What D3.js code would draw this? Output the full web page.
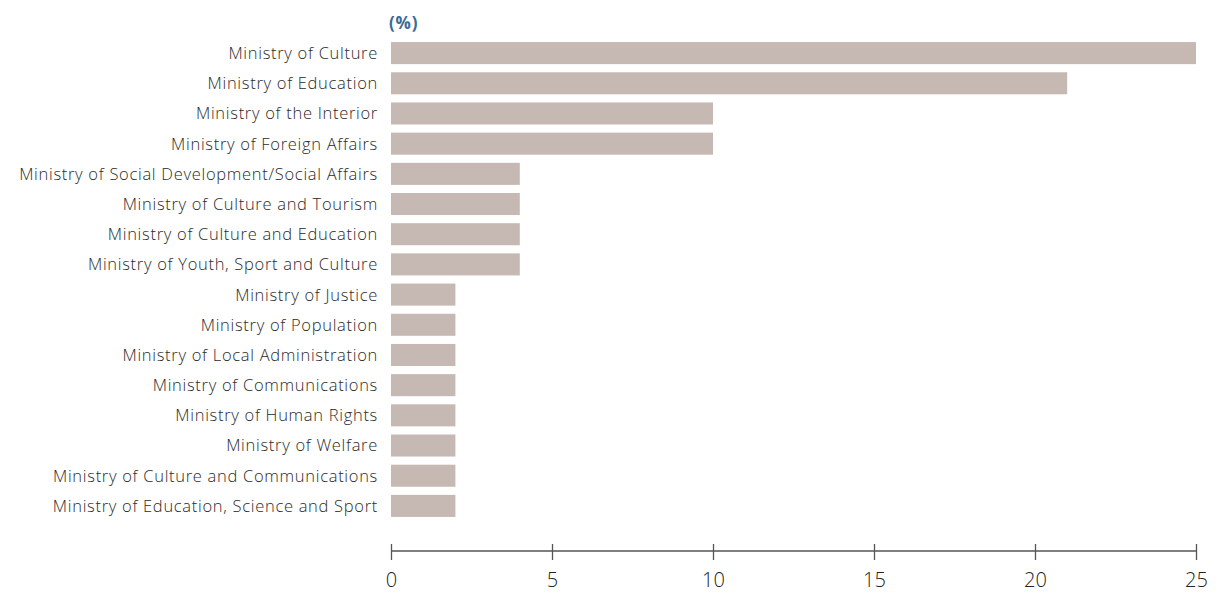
<!DOCTYPE html>
<html><head><meta charset="utf-8">
<script src="https://cdn.jsdelivr.net/npm/d3@7"></script>
<style>
body{margin:0;background:#fff;}
svg{display:block;}
</style></head>
<body>
<svg id="chart" width="1217" height="592"></svg>
<script>
const categories = [
  "Ministry of Culture",
  "Ministry of Education",
  "Ministry of the Interior",
  "Ministry of Foreign Affairs",
  "Ministry of Social Development/Social Affairs",
  "Ministry of Culture and Tourism",
  "Ministry of Culture and Education",
  "Ministry of Youth, Sport and Culture",
  "Ministry of Justice",
  "Ministry of Population",
  "Ministry of Local Administration",
  "Ministry of Communications",
  "Ministry of Human Rights",
  "Ministry of Welfare",
  "Ministry of Culture and Communications",
  "Ministry of Education, Science and Sport"
];
const values = [25, 21, 10, 10, 4, 4, 4, 4, 2, 2, 2, 2, 2, 2, 2, 2];
const tickValues = [0, 5, 10, 15, 20, 25];
const unitLabel = "(%)";

const svg = d3.select("#chart");
const x = d3.scaleLinear().domain([0, 25]).range([391, 1196]);
const y = d3.scaleBand().domain(categories).range([38, 521]).paddingInner(0.27).paddingOuter(0.135);

svg.append("text").attr("x", 389).attr("y", 29)
  .attr("font-family", "'Open Sans', sans-serif").attr("font-weight", 700)
  .attr("font-size", 17).attr("letter-spacing", 0.8).attr("fill", "#3d6a98").text(unitLabel);

svg.selectAll("rect.bar").data(values).join("rect")
  .attr("class", "bar")
  .attr("x", x(0))
  .attr("y", (d, i) => y(categories[i]))
  .attr("width", d => x(d) - x(0))
  .attr("height", y.bandwidth())
  .attr("fill", "#c6b8b2");

svg.selectAll("text.cat").data(categories).join("text")
  .attr("class", "cat")
  .attr("x", 378)
  .attr("y", d => y(d) + y.bandwidth() / 2)
  .attr("dy", "0.36em")
  .attr("text-anchor", "end")
  .attr("font-family", "'Open Sans', sans-serif")
  .attr("font-weight", 300)
  .attr("font-size", 16.5)
  .attr("letter-spacing", 0.7)
  .attr("fill", "#2a2a2a")
  .text(d => d);

const axis = d3.axisBottom(x).tickValues(tickValues).tickSize(0).tickPadding(0);
const g = svg.append("g").attr("transform", "translate(0,551)").call(axis);
g.select(".domain").remove();
g.append("line").attr("x1", x(0)).attr("x2", x(25)).attr("stroke", "#555").attr("stroke-width", 1.3);
g.selectAll(".tick").append("line").attr("y1", -7).attr("y2", 9).attr("stroke", "#555").attr("stroke-width", 1.3);
g.selectAll(".tick text")
  .attr("y", 36)
  .attr("dy", 0)
  .attr("font-family", "'Open Sans', sans-serif")
  .attr("font-weight", 300)
  .attr("font-size", 20)
  .attr("fill", "#222");
</script>
</body></html>
